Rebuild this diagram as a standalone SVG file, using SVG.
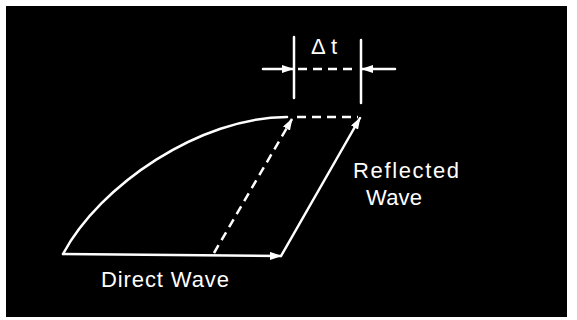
<svg xmlns="http://www.w3.org/2000/svg" width="577" height="320" viewBox="0 0 577 320">
<style>
.ln{stroke:#fff;stroke-width:2.5;fill:none;stroke-linecap:round}
.dash{stroke-dasharray:9 6;stroke-linecap:butt}
.lbl{font-family:"Liberation Sans",Arial,sans-serif;font-size:22px;fill:#fff}
</style>
<defs>
<marker id="ah" viewBox="0 0 12 8" refX="11" refY="4" markerWidth="12" markerHeight="8" markerUnits="userSpaceOnUse" orient="auto">
<path d="M0,0 L12,4 L0,8 Z" fill="#fff"/>
</marker>
</defs>
<rect x="0" y="0" width="577" height="320" fill="#fff"/>
<rect x="6" y="6" width="561" height="311" fill="#000"/>
<g id="connectors">
<path class="ln" d="M63,254 C100,185 200,117 287,117"/>
<line class="ln" x1="63" y1="254" x2="281" y2="256" marker-end="url(#ah)"/>
<line class="ln" x1="281" y1="256" x2="360" y2="118" marker-end="url(#ah)"/>
<line class="ln dash" x1="214" y1="253" x2="292" y2="119" marker-end="url(#ah)"/>
<line class="ln dash" x1="297" y1="117" x2="358" y2="117"/>
<line class="ln" x1="294" y1="37" x2="294" y2="98"/>
<line class="ln" x1="361" y1="40" x2="361" y2="103"/>
<line class="ln" x1="263" y1="69" x2="293" y2="69" marker-end="url(#ah)"/>
<line class="ln dash" x1="298" y1="69" x2="358" y2="69"/>
<line class="ln" x1="395" y1="69" x2="362" y2="69" marker-end="url(#ah)"/>
</g>
<g id="label-dt"><text class="lbl" y="54" font-size="20"><tspan x="311">Δ</tspan><tspan x="331">t</tspan></text></g>
<g id="label-reflected"><text class="lbl" x="353" y="178" textLength="106">Reflected</text>
<text class="lbl" x="366" y="205" textLength="56">Wave</text></g>
<g id="label-direct"><text class="lbl" x="101" y="287" textLength="128">Direct Wave</text></g>
</svg>
